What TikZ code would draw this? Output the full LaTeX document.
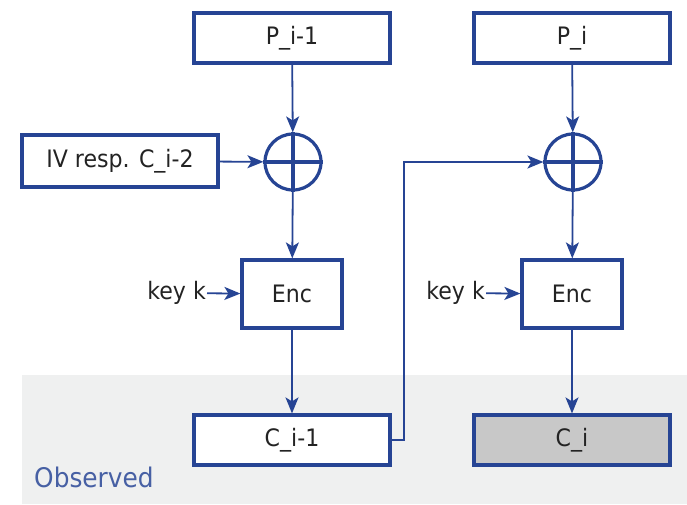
\documentclass[tikz,border=0pt]{standalone}
\usepackage{fontspec}
\setmainfont{DejaVu Sans}[FakeStretch=0.92]
\usetikzlibrary{arrows.meta}
\definecolor{lineblue}{RGB}{38,68,148}
\definecolor{textgrey}{RGB}{35,35,35}
\definecolor{obsgrey}{RGB}{239,240,240}
\definecolor{cellgrey}{RGB}{200,200,200}
\tikzset{
	blockbox/.style={draw=lineblue, line width=3.2pt, fill=white, minimum width=196pt, minimum height=50pt, inner sep=0pt, text=textgrey, font=\fontsize{24}{28}\selectfont},
	encbox/.style={blockbox, minimum width=100pt, minimum height=68pt},
	xorcirc/.style={draw=lineblue, line width=3.2pt, circle, minimum size=56pt, inner sep=0pt},
	wire/.style={draw=lineblue, line width=1.8pt, -{Stealth[length=16pt,width=13pt,inset=4pt]}},
	keylabel/.style={anchor=east, inner sep=1pt, text=textgrey, font=\fontsize{24}{28}\selectfont}
}
\begin{document}
\begin{tikzpicture}[x=1pt, y=-1pt]
		%%%%% START %%%%%
		\useasboundingbox (0, 0) rectangle (687, 504);
		
		\fill[obsgrey] (22, 375) rectangle (687, 504);
		\node[anchor=west, text=lineblue!85!white, font=\fontsize{27}{30}\selectfont, inner sep=0pt] (observed) at (34, 477) {Observed};
		
		\node[blockbox] (pprev) at (292, 38) {P\_i-1};
		\node[blockbox] (pcur) at (572, 38) {P\_i};
		\node[blockbox, minimum height=52pt] (iv) at (120, 161) {IV resp. C\_i-2};
		
		\node[xorcirc] (xorl) at (293, 162) {};
		\node[xorcirc] (xorr) at (573, 162) {};
		\draw[lineblue, line width=3.2pt] (xorl.north) -- (xorl.south) (xorl.west) -- (xorl.east);
		\draw[lineblue, line width=3.2pt] (xorr.north) -- (xorr.south) (xorr.west) -- (xorr.east);
		
		\node[encbox] (encl) at (292, 294) {Enc};
		\node[encbox] (encr) at (572, 294) {Enc};
		\node[keylabel] (keyl) at (207, 293) {key k};
		\node[keylabel] (keyr) at (486, 293) {key k};
		
		\node[blockbox] (cprev) at (292, 440) {C\_i-1};
		\node[blockbox, fill=cellgrey] (ccur) at (572, 440) {C\_i};
		
		\draw[wire] (pprev) -- (xorl);
		\draw[wire] (iv) -- (xorl);
		\draw[wire] (xorl) -- (encl);
		\draw[wire] (keyl) -- (encl);
		\draw[wire] (encl) -- (cprev);
		
		\draw[wire] (pcur) -- (xorr);
		\draw[wire] (xorr) -- (encr);
		\draw[wire] (keyr) -- (encr);
		\draw[wire] (encr) -- (ccur);
		
		\draw[wire] (cprev.east) -- ++(12, 0) |- (xorr.west);
		
		%%%%% END %%%%%
	\end{tikzpicture}
\end{document}
